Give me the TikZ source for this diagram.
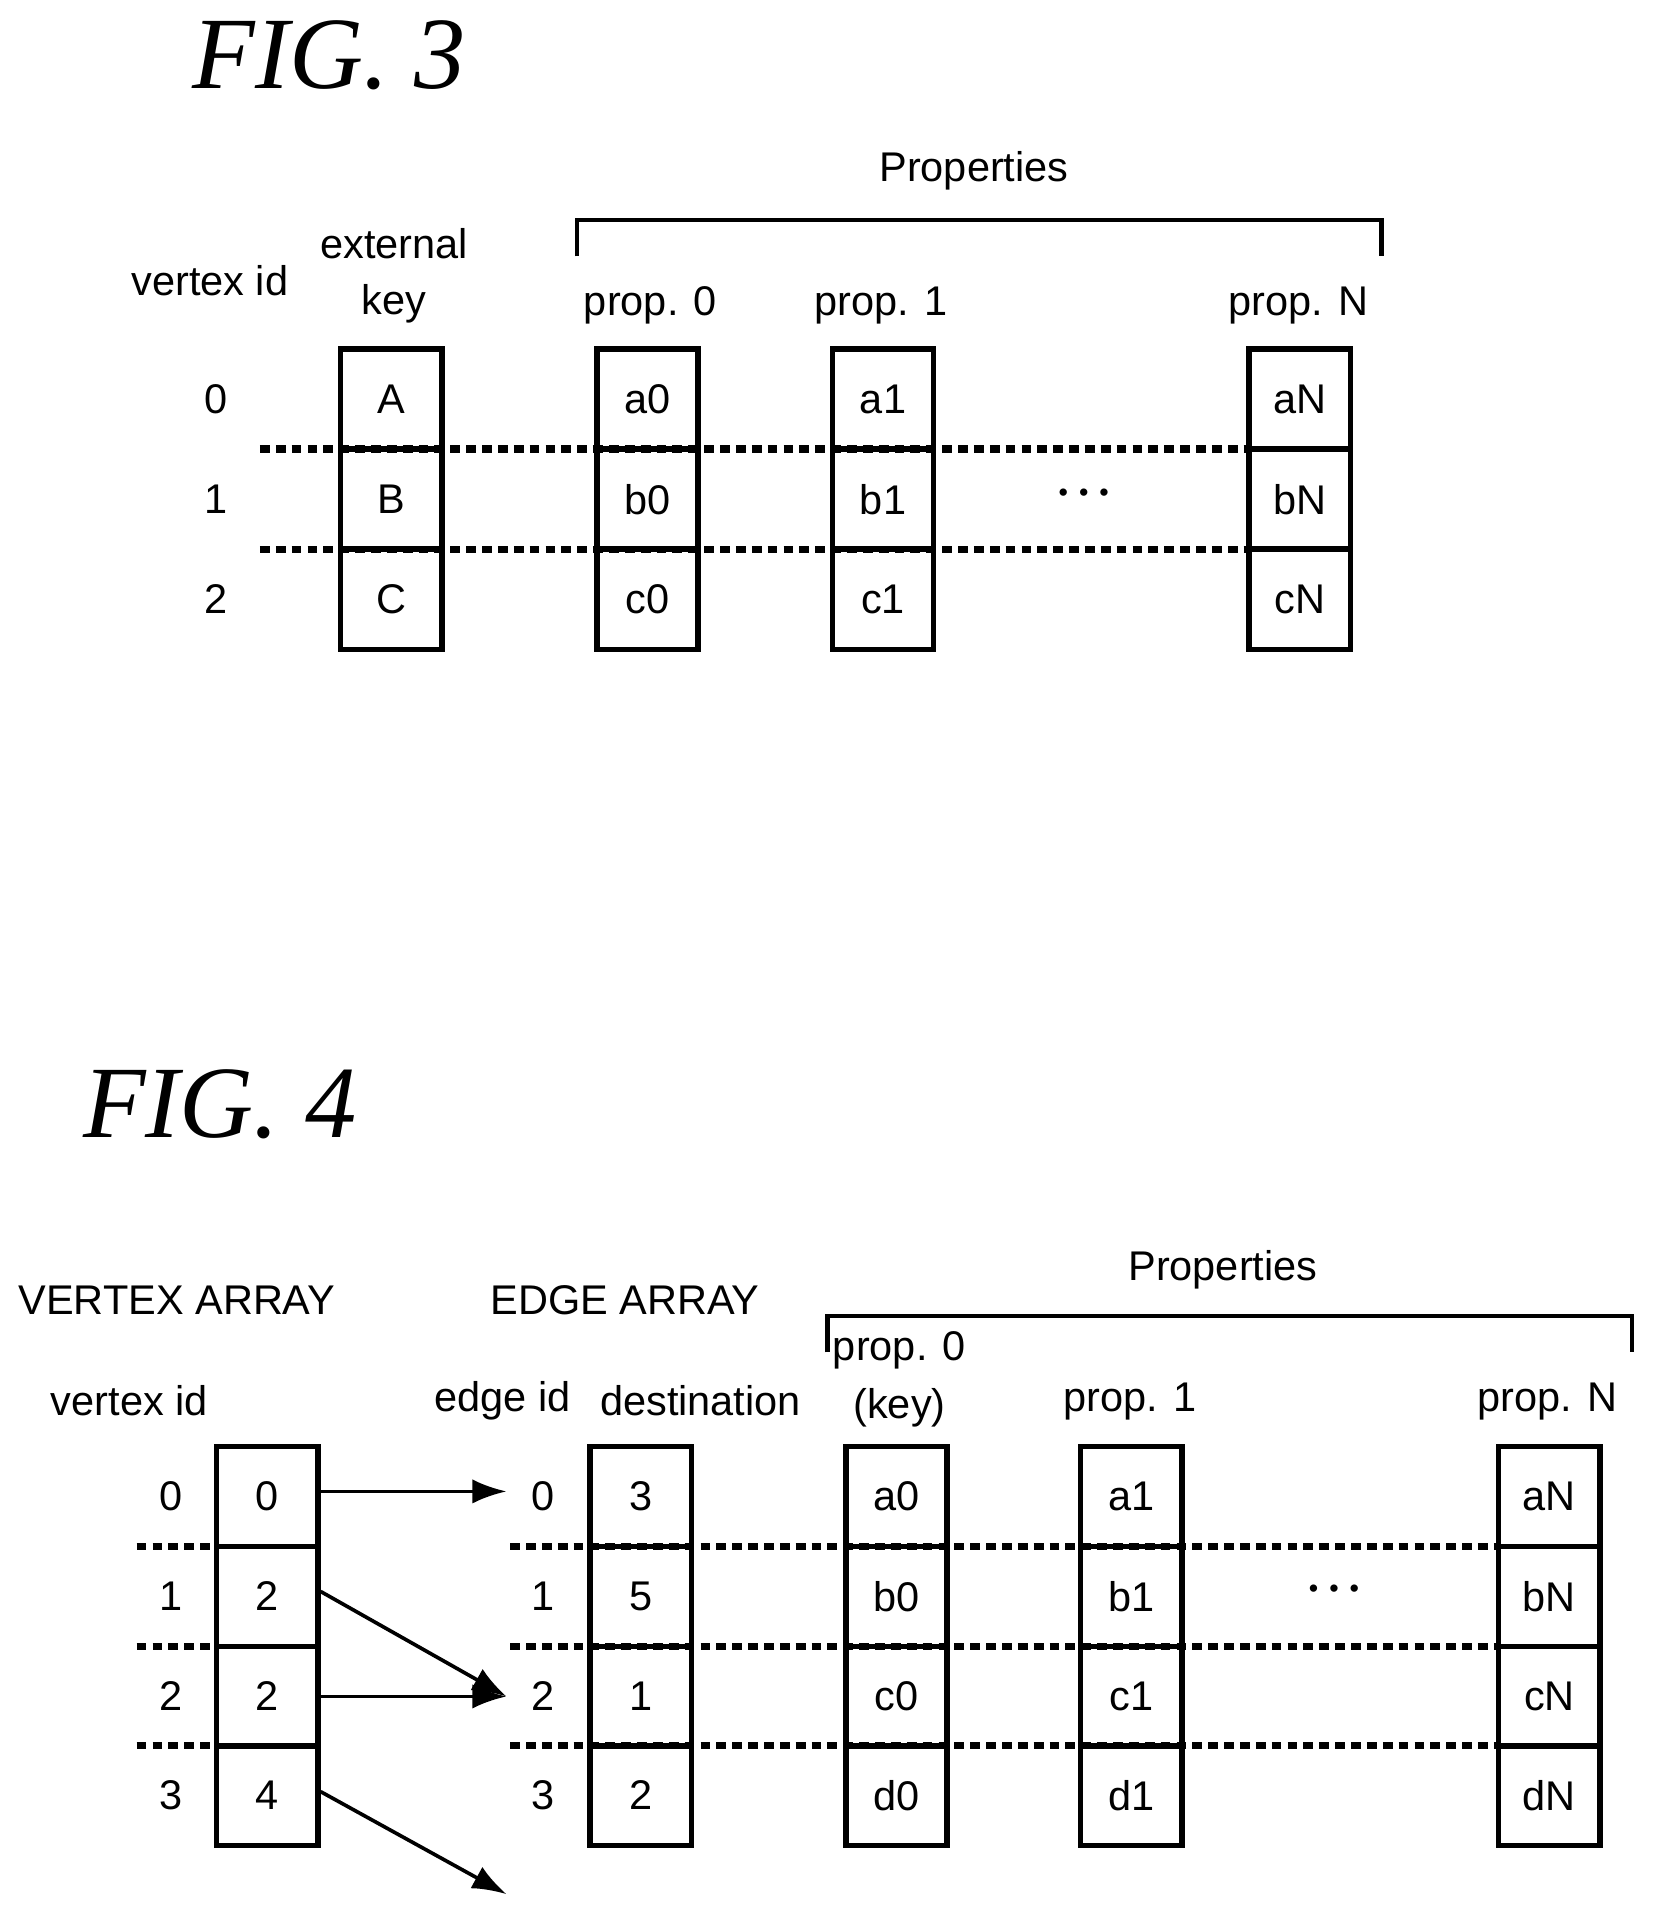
\documentclass[tikz,border=0pt]{standalone}
\usepackage{fontspec}
\setmainfont{Liberation Sans}
\newfontfamily\figfont{Liberation Serif}
\usetikzlibrary{arrows.meta}
\tikzset{
  cell/.style={rectangle, draw=black, line width=4.5pt, minimum width=83pt, minimum height=82pt, inner sep=0pt},
  lbl/.style={inner sep=0pt},
  sep/.style={line width=6pt, dash pattern=on 8pt off 5pt},
  ptr/.style={line width=3pt, -{Latex[length=28pt,width=20pt]}},
  brace/.style={line width=3.5pt},
  gap/.style={inner sep=0pt, font=\fontsize{22}{22}\selectfont}
}
\begin{document}
\begin{tikzpicture}[font=\fontsize{34}{42}\selectfont]
\useasboundingbox (0pt,0pt) rectangle (1360pt,-1574pt);
% FIG. 3
\node (t3) [lbl, font=\figfont\itshape\fontsize{84}{90}\selectfont] at (270pt, -45pt) {FIG. 3};
\node (p3) [lbl] at (798pt, -140pt) {Properties};
\draw [brace] (473pt, -210pt) -- (473pt, -180pt) -- (1132pt, -180pt) -- (1132pt, -210pt);
\node (vid3) [lbl] at (172pt, -230pt) {vertex id};
\node (ek3) [lbl, align=center] at (323pt, -226pt) {external\\[4pt]key};
\node (h0) [lbl] at (533pt, -250pt) {prop. 0};
\node (h1) [lbl] at (722pt, -250pt) {prop. 1};
\node (hN) [lbl] at (1064pt, -250pt) {prop. N};
\draw [sep] (213pt, -368pt) -- (1024pt, -368pt);
\draw [sep] (213pt, -450pt) -- (1024pt, -450pt);
\foreach \r/\y/\k in {0/-327/A, 1/-409/B, 2/-491/C} {
  \node (id3\r) [lbl] at (177pt, \y pt) {\r};
  \node (k\r) [cell] at (320.5pt, \y pt) {\k};
}
\foreach \r/\y/\s in {0/-327/a, 1/-409/b, 2/-491/c} {
  \node (c0\r) [cell] at (530.5pt, \y pt) {\s0};
  \node (c1\r) [cell] at (723.5pt, \y pt) {\s1};
  \node (cN\r) [cell] at (1065pt, \y pt) {\s N};
}
\node (dots3) [gap] at (888pt, -406pt) {•\hspace{9pt}•\hspace{9pt}•};
% FIG. 4
\node (t4) [lbl, font=\figfont\itshape\fontsize{84}{90}\selectfont] at (180pt, -905pt) {FIG. 4};
\node (va) [lbl] at (145pt, -1065pt) {VERTEX ARRAY};
\node (ea) [lbl] at (512pt, -1065pt) {EDGE ARRAY};
\node (p4) [lbl] at (1002pt, -1040pt) {Properties};
\draw [brace] (678pt, -1108pt) -- (678pt, -1078pt) -- (1337pt, -1078pt) -- (1337pt, -1108pt);
\node (vid4) [lbl] at (106pt, -1148pt) {vertex id};
\node (eid4) [lbl] at (412pt, -1148pt) {edge id};
\node (dst4) [lbl] at (574pt, -1148pt) {destination};
\node (g0) [lbl, align=center] at (737pt, -1130pt) {prop. 0\\[6pt](key)};
\node (g1) [lbl] at (926pt, -1148pt) {prop. 1};
\node (gN) [lbl] at (1268pt, -1148pt) {prop. N};
\foreach \y in {-1267, -1349, -1430} {
  \draw [sep] (112pt, \y pt) -- (178pt, \y pt);
  \draw [sep] (418pt, \y pt) -- (1228pt, \y pt);
}
\foreach \r/\y/\v/\d/\s in {0/-1226/0/3/a, 1/-1308/2/5/b, 2/-1390/2/1/c, 3/-1471/4/2/d} {
  \node (vi\r) [lbl] at (140pt, \y pt) {\r};
  \node (v\r) [cell] at (219pt, \y pt) {\v};
  \node (ei\r) [lbl] at (445pt, \y pt) {\r};
  \node (e\r) [cell] at (525pt, \y pt) {\d};
  \node (q0\r) [cell] at (734.5pt, \y pt) {\s0};
  \node (q1\r) [cell] at (927pt, \y pt) {\s1};
  \node (qN\r) [cell] at (1269.5pt, \y pt) {\s N};
}
\node (dots4) [gap] at (1093pt, -1304pt) {•\hspace{9pt}•\hspace{9pt}•};
\coordinate (a0) at (415pt, -1222pt);
\coordinate (a2) at (415pt, -1390pt);
\coordinate (a4) at (415pt, -1552pt);
\draw [ptr] (v0.east |- 0,-1222pt) -- (a0);
\draw [ptr] (v1.east |- 0,-1304pt) -- (a2);
\draw [ptr] (v2.east) -- (a2);
\draw [ptr] (v3.east |- 0,-1468pt) -- (a4);
\end{tikzpicture}
\end{document}
